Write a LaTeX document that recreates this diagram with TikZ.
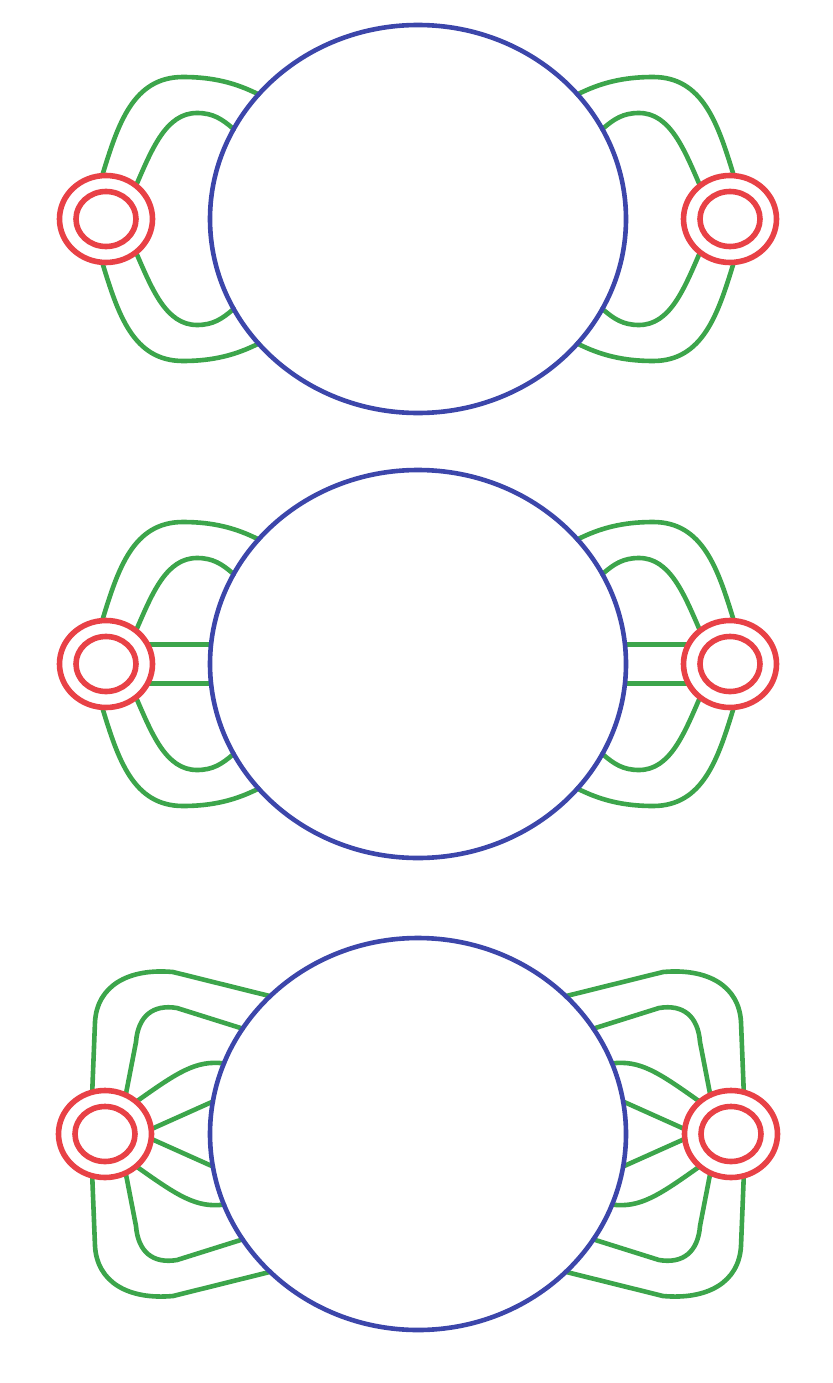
\documentclass[tikz,border=0pt]{standalone}
\usetikzlibrary{shapes.geometric,backgrounds}
\definecolor{eblue}{RGB}{60,70,170}
\definecolor{lgreen}{RGB}{60,165,75}
\definecolor{rred}{RGB}{232,65,70}
\tikzset{
  bigell/.style={ellipse, draw=eblue, line width=4.6pt, inner sep=0pt, outer sep=0pt, minimum width=416pt},
  ringout/.style={ellipse, draw=rred, line width=5.6pt, inner sep=0pt, outer sep=0pt, minimum width=93pt, minimum height=87pt},
  ringin/.style={ellipse, draw=rred, line width=5.6pt, inner sep=0pt, outer sep=0pt, minimum width=60pt, minimum height=55pt},
  wire/.style={draw=lgreen, line width=4.6pt, line cap=round, line join=round},
}
\newcommand\mang[2]{\pgfmathtruncatemacro#1{90+\s*((#2)-90)}}
\begin{document}
\begin{tikzpicture}[x=1pt,y=-1pt]
\useasboundingbox (0,0) rectangle (832,1383);
% figure 1
\node[bigell, minimum height=388pt] (E1) at (418,219) {};
\node[ringout] (L1) at (106,219) {};
\node[ringin]  (L1c) at (106,219) {};
\node[ringout] (R1) at (730,219) {};
\node[ringin]  (R1c) at (730,219) {};
% figure 2
\node[bigell, minimum height=388pt] (E2) at (418,664) {};
\node[ringout] (L2) at (106,664) {};
\node[ringin]  (L2c) at (106,664) {};
\node[ringout] (R2) at (730,664) {};
\node[ringin]  (R2c) at (730,664) {};
% figure 3
\node[bigell, minimum height=392pt] (E3) at (418,1134) {};
\node[ringout] (L3) at (105,1134) {};
\node[ringin]  (L3c) at (105,1134) {};
\node[ringout] (R3) at (731,1134) {};
\node[ringin]  (R3c) at (731,1134) {};
\begin{scope}[on background layer]
\fill[white] (0,0) rectangle (832,1383);
% figures 1 and 2: arcs
\foreach \s/\rn/\fy/\en in {1/L1/219/E1,-1/R1/219/E1,1/L2/664/E2,-1/R2/664/E2}{
  \begin{scope}[shift={(418,\fy)},xscale=\s]
    \mang\pA{95}\mang\pB{142}\mang\pC{48}\mang\pD{154}
    \mang\nA{-95}\mang\nB{-142}\mang\nC{-48}\mang\nD{-154}
    \draw[wire] (\rn.\pA) .. controls (-300,-95) and (-285,-142) .. (-235,-142) .. controls (-205,-142) and (-182,-136) .. (\en.\pB);
    \draw[wire] (\rn.\pC) .. controls (-266,-70) and (-252,-106) .. (-221,-106) .. controls (-205,-106) and (-196,-100) .. (\en.\pD);
    \draw[wire] (\rn.\nA) .. controls (-300,95) and (-285,142) .. (-235,142) .. controls (-205,142) and (-182,136) .. (\en.\nB);
    \draw[wire] (\rn.\nC) .. controls (-266,70) and (-252,106) .. (-221,106) .. controls (-205,106) and (-196,100) .. (\en.\nD);
  \end{scope}
}
% figure 2: straight links
\foreach \rn/\sd/\ha/\hb in {L2/west/25/-25,R2/east/155/-155}{
  \draw[wire] (\rn.\ha) -- (\rn.\ha -| E2.\sd);
  \draw[wire] (\rn.\hb) -- (\rn.\hb -| E2.\sd);
}
% figure 3
\foreach \s/\rn in {1/L3,-1/R3}{
  \begin{scope}[shift={(418,1134)},xscale=\s]
    \mang\pA{107}\mang\pB{137}\mang\pC{62}\mang\pD{149}
    \mang\pE{46}\mang\pF{160}\mang\pG{6}\mang\pH{171}
    \mang\nA{-107}\mang\nB{-137}\mang\nC{-62}\mang\nD{-149}
    \mang\nE{-46}\mang\nF{-160}\mang\nG{-6}\mang\nH{-171}
    \draw[wire] (\rn.\pA) -- (-323,-112) .. controls (-321,-148) and (-290,-166) .. (-245,-162) -- (E3.\pB);
    \draw[wire] (\rn.\pC) -- (-282,-92) .. controls (-280,-118) and (-265,-130) .. (-241,-126) -- (E3.\pD);
    \draw[wire] (\rn.\pE) .. controls (-240,-62) and (-222,-74) .. (E3.\pF);
    \draw[wire] (\rn.\pG) -- (E3.\pH);
    \draw[wire] (\rn.\nA) -- (-323,112) .. controls (-321,148) and (-290,166) .. (-245,162) -- (E3.\nB);
    \draw[wire] (\rn.\nC) -- (-282,92) .. controls (-280,118) and (-265,130) .. (-241,126) -- (E3.\nD);
    \draw[wire] (\rn.\nE) .. controls (-240,62) and (-222,74) .. (E3.\nF);
    \draw[wire] (\rn.\nG) -- (E3.\nH);
  \end{scope}
}
\end{scope}
\end{tikzpicture}
\end{document}
